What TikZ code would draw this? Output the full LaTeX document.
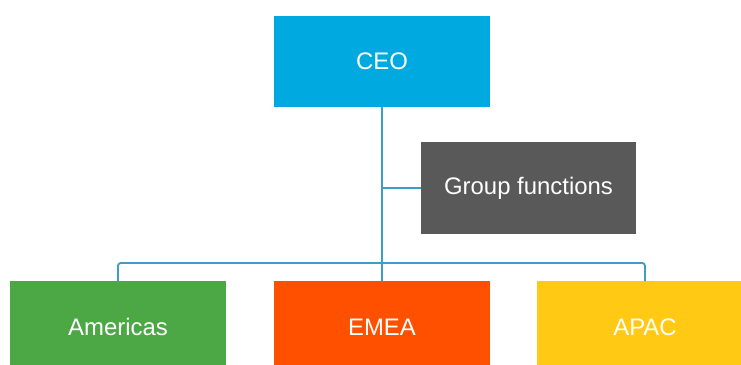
\documentclass[tikz,border=0pt]{standalone}
\usepackage{fontspec}
\setmainfont{Liberation Sans}
\usepackage{xcolor}
\usetikzlibrary{positioning}
\definecolor{ceoblue}{HTML}{00A9E0}
\definecolor{groupgray}{HTML}{595959}
\definecolor{amgreen}{HTML}{4BA845}
\definecolor{emorange}{HTML}{FF5000}
\definecolor{apyellow}{HTML}{FFC914}
\definecolor{linkblue}{HTML}{3F9CC8}
\tikzset{%
	unit/.style = {rectangle, minimum width=5.375cm, minimum height=2.275cm, text=white, text centered, font=\fontsize{17}{20}\selectfont},
	link/.style = {draw=linkblue, line width=1.3pt},
}
\begin{document}
\begin{tikzpicture}[x=0.025cm,y=-0.025cm]
		\clip (0,0) rectangle (741,365);
		\node[unit, fill=ceoblue] (ceo) at (382,61.5) {CEO};
		\node[unit, fill=groupgray] (group) at (528.5,188) {Group functions};
		\node[unit, fill=amgreen] (americas) at (118,327) {Americas};
		\node[unit, fill=emorange] (emea) at (382,327) {EMEA};
		\node[unit, fill=apyellow] (apac) at (645,327) {APAC};
		
		\coordinate (bus) at (382,263);
		\draw[link] (ceo) -- (emea);
		\draw[link] (group.west) -- (group.west -| ceo);
		\draw[link, rounded corners=2pt] (americas) |- (bus) -| (apac);
		
	\end{tikzpicture}
\end{document}
